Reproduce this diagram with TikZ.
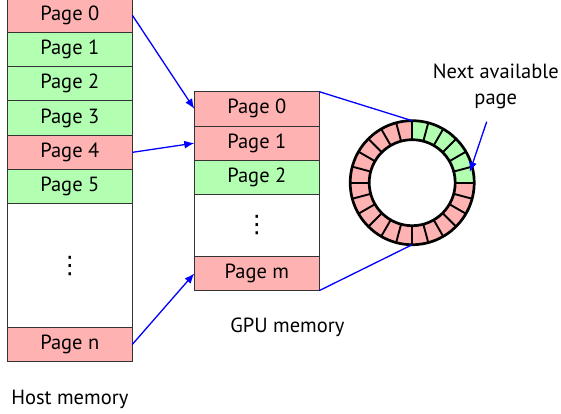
\documentclass[tikz,border=0pt]{standalone}
\usepackage{fontspec}
\setmainfont{PT Sans}
\newfontfamily\dotsfont{DejaVu Sans}
\usetikzlibrary{arrows.meta}
\definecolor{pinkpg}{RGB}{255,178,178}
\definecolor{greenpg}{RGB}{178,255,178}
\definecolor{arrblue}{RGB}{0,0,255}
\newcommand{\mydots}{{\dotsfont\fontsize{24}{24}\selectfont ⋮}}
\tikzset{
  pagebox/.style={draw=black!80, line width=0.8pt, minimum width=125pt, minimum height=34.3pt, inner sep=0pt, outer sep=0pt, font=\fontsize{20.5}{24}\selectfont},
  redpg/.style={pagebox, fill=pinkpg},
  greenp/.style={pagebox, fill=greenpg},
  blankpg/.style={pagebox, fill=white},
  lbl/.style={font=\fontsize{20.5}{26.7}\selectfont, inner sep=0pt},
  bluearrow/.style={draw=arrblue, line width=1.3pt, -{Latex[length=10pt,width=8pt]}},
  blueline/.style={draw=arrblue, line width=1.3pt}
}
\begin{document}
\begin{tikzpicture}[x=1pt,y=-1pt]
\useasboundingbox (0,0) rectangle (561,414);
% Host memory column
\node[redpg, anchor=north west] (h0) at (7.3,-2) {Page 0};
\node[greenp, anchor=north] (h1) at (h0.south) {Page 1};
\node[greenp, anchor=north] (h2) at (h1.south) {Page 2};
\node[greenp, anchor=north] (h3) at (h2.south) {Page 3};
\node[redpg, anchor=north] (h4) at (h3.south) {Page 4};
\node[greenp, anchor=north] (h5) at (h4.south) {Page 5};
\node[blankpg, minimum height=123.5pt, anchor=north] (hb) at (h5.south) {\mydots};
\node[redpg, anchor=north] (hn) at (hb.south) {Page n};
\node[lbl, anchor=base] (hostlbl) at (69.8,404) {Host memory};
% GPU memory column
\node[redpg, anchor=north west] (g0) at (194.3,91.7) {Page 0};
\node[redpg, anchor=north] (g1) at (g0.south) {Page 1};
\node[greenp, anchor=north] (g2) at (g1.south) {Page 2};
\node[blankpg, minimum height=61.7pt, anchor=north] (gb) at (g2.south) {\mydots};
\node[redpg, anchor=north] (gm) at (gb.south) {Page m};
\node[lbl, anchor=base] (gpulbl) at (287.3,332.7) {GPU memory};
% ring buffer
\begin{scope}[shift={(412.2,182.7)}]
  \foreach \i in {0,...,23} {
    \pgfmathsetmacro{\a}{\i*15}
    \pgfmathsetmacro{\b}{\i*15+15}
    \ifnum\i<6 \def\segcol{greenpg}\else\def\segcol{pinkpg}\fi
    \fill[\segcol] (\a:43pt) -- (\a:62pt) arc[start angle=\a, end angle=\b, radius=62pt] -- (\b:43pt) arc[start angle=\b, end angle=\a, radius=43pt] -- cycle;
  }
  \foreach \i in {0,...,23} {
    \draw[line width=1.9pt] (\i*15:43pt) -- (\i*15:62pt);
  }
  \draw[line width=2.7pt] (0,0) circle[radius=62pt];
  \draw[line width=2.7pt] (0,0) circle[radius=43pt];
  \coordinate (ringtop) at (90:62pt);
  \coordinate (ringbot) at (270:62pt);
  \coordinate (nextpage) at (10.5:58.5pt);
\end{scope}
\node[lbl, align=center, anchor=base] (nextlbl) at (495.8,105) {Next available\\page};
\coordinate (nextfrom) at (486.7,121.7);
% connectors
\draw[bluearrow] (h0.east) -- (g0.west);
\draw[bluearrow] (h4.east) -- (g1.west);
\draw[bluearrow] (hn.east) -- (gm.west);
\draw[blueline] (g0.north east) -- (ringtop);
\draw[blueline] (gm.south east) -- (ringbot);
\draw[bluearrow] (nextfrom) -- (nextpage);
\end{tikzpicture}
\end{document}
